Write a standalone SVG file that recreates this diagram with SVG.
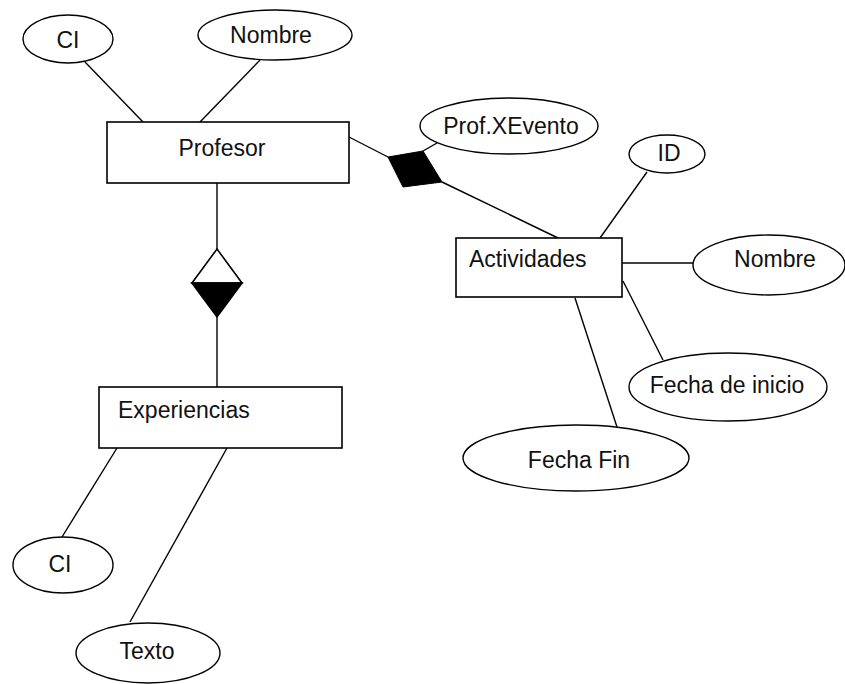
<svg xmlns="http://www.w3.org/2000/svg" width="845" height="684" viewBox="0 0 845 684">
  <style>
    .ent { fill: #ffffff; stroke: #000000; stroke-width: 1.6; }
    .attr { fill: #ffffff; stroke: #000000; stroke-width: 1.4; }
    .lbl { font-family: "Liberation Sans", Arial, sans-serif; font-size: 23px; fill: #111111; }
    .mid { text-anchor: middle; }
    .edge { stroke: #000000; stroke-width: 1.4; fill: none; }
  </style>
  <rect width="845" height="684" fill="#ffffff"/>

  <!-- connectors -->
  <g id="connectors">
    <line class="edge" x1="85" y1="62" x2="143" y2="122"/>
    <line class="edge" x1="260" y1="60" x2="200" y2="122"/>
    <line class="edge" x1="349" y1="137" x2="388" y2="157"/>
    <line class="edge" x1="437" y1="143" x2="423" y2="151"/>
    <line class="edge" x1="442" y1="182" x2="558" y2="238"/>
    <circle cx="558" cy="239" r="1.6" fill="#000"/>
    <line class="edge" x1="217" y1="183" x2="217" y2="249"/>
    <line class="edge" x1="217" y1="317" x2="217" y2="387"/>
    <line class="edge" x1="647" y1="172" x2="600" y2="238"/>
    <line class="edge" x1="622" y1="263" x2="693" y2="263"/>
    <line class="edge" x1="623" y1="281" x2="663" y2="360"/>
    <line class="edge" x1="575" y1="298" x2="617" y2="427"/>
    <line class="edge" x1="117" y1="448" x2="62" y2="537"/>
    <line class="edge" x1="227" y1="448" x2="130" y2="622"/>
  </g>

  <!-- relationship diamonds -->
  <g id="rel-prof-evento">
    <polygon points="388,157 423,151 442,182 403,187" fill="#000" stroke="#000" stroke-width="1"/>
  </g>
  <g id="rel-prof-exp">
    <polygon points="217,249 242,283 192,283" fill="#fff" stroke="#000" stroke-width="1.6"/>
    <polygon points="192,283 242,283 217,317" fill="#000" stroke="#000" stroke-width="1.6"/>
  </g>

  <!-- entities -->
  <g id="profesor">
    <rect class="ent" x="107" y="122" width="242" height="61"/>
    <text class="lbl mid" x="222" y="156">Profesor</text>
  </g>
  <g id="actividades">
    <rect class="ent" x="456" y="238" width="166" height="59"/>
    <text class="lbl" x="469" y="267">Actividades</text>
  </g>
  <g id="experiencias">
    <rect class="ent" x="99" y="387" width="243" height="61"/>
    <text class="lbl" x="118" y="418">Experiencias</text>
  </g>

  <!-- attributes -->
  <g id="profesor-ci">
    <ellipse class="attr" cx="68" cy="39" rx="45" ry="24"/>
    <text class="lbl mid" x="68" y="48">CI</text>
  </g>
  <g id="profesor-nombre">
    <ellipse class="attr" cx="275" cy="35" rx="77" ry="25"/>
    <text class="lbl mid" x="271" y="43">Nombre</text>
  </g>
  <g id="prof-x-evento">
    <ellipse class="attr" cx="509" cy="126" rx="89" ry="28"/>
    <text class="lbl mid" x="511" y="134">Prof.XEvento</text>
  </g>
  <g id="actividades-id">
    <ellipse class="attr" cx="667" cy="154" rx="38" ry="19"/>
    <text class="lbl mid" x="669" y="161">ID</text>
  </g>
  <g id="actividades-nombre">
    <ellipse class="attr" cx="769" cy="265" rx="76" ry="30"/>
    <text class="lbl mid" x="775" y="267">Nombre</text>
  </g>
  <g id="fecha-inicio">
    <ellipse class="attr" cx="728" cy="387" rx="99" ry="34"/>
    <text class="lbl mid" x="727" y="393">Fecha de inicio</text>
  </g>
  <g id="fecha-fin">
    <ellipse class="attr" cx="576" cy="458" rx="113" ry="33"/>
    <text class="lbl mid" x="579" y="468">Fecha Fin</text>
  </g>
  <g id="experiencias-ci">
    <ellipse class="attr" cx="63" cy="565" rx="50" ry="28"/>
    <text class="lbl mid" x="60" y="572">CI</text>
  </g>
  <g id="experiencias-texto">
    <ellipse class="attr" cx="148" cy="653" rx="72" ry="30"/>
    <text class="lbl mid" x="147" y="659">Texto</text>
  </g>
</svg>
